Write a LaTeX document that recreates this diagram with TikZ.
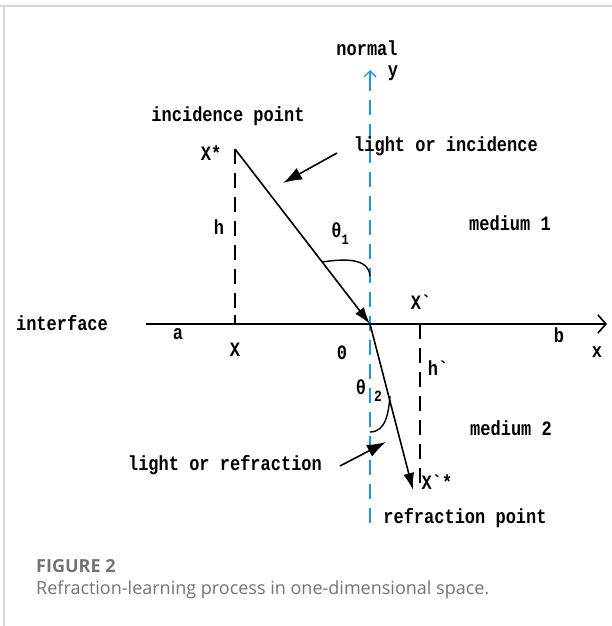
\documentclass[tikz,border=0pt]{standalone}
\usepackage{fontspec}
\setmainfont{Liberation Serif}
\newfontfamily\diagfont{Liberation Mono}
\newfontfamily\capfont{Open Sans}
\usetikzlibrary{arrows.meta}
\definecolor{normalblue}{RGB}{30,150,215}
\definecolor{framegray}{RGB}{215,215,215}
\definecolor{capgray}{RGB}{115,115,115}
\newcommand{\lblnode}[4]{\node[lbl] (#1) at ( #2 , #3 ) {\scalebox{1}[1.2]{#4}};}
\newcommand{\bq}{\symbol{96}}

\begin{document}
\begin{tikzpicture}[x=1pt,y=-1pt,
    lbl/.style={font=\diagfont\bfseries\fontsize{17}{17}\selectfont,inner sep=0pt},
    ray/.style={line width=1.6pt,-{Latex[length=17pt,width=11pt]}},
    pointer/.style={line width=1.6pt,-{Latex[length=19pt,width=13pt]}},
    guide/.style={line width=1.6pt,dash pattern=on 15pt off 9pt}]
        \useasboundingbox (0,0) rectangle (612,626);
        %frame
        \draw[framegray,line width=2pt] (0,6) -- (612,6);
        \draw[framegray,line width=1.2pt] (4,6) -- (4,626);
        %points
        \coordinate (xs) at (235,149);
        \coordinate (o) at (370,324);
        \coordinate (xsr) at (413,490);
        \coordinate (xb) at (420,324);
        \coordinate (xbr) at (420,488);
        \coordinate (ax0) at (146,324);
        \coordinate (ax1) at (607,324);
        \coordinate (nb) at (370,523);
        \coordinate (nt) at (370,70);
        \coordinate (p1) at (337,153);
        \coordinate (q1) at (283,183);
        \coordinate (p2) at (340,466);
        \coordinate (q2) at (386,442);
        %normal and interface
        \draw[normalblue,line width=1.6pt,dash pattern=on 15pt off 9pt] (nb) -- (370,80);
        \draw[normalblue,line width=1.4pt,-{Straight Barb[length=6pt,width=12pt]}] (370,84) -- (nt);
        \draw[line width=1.6pt,-{Straight Barb[length=8pt,width=18pt]}] (ax0) -- (ax1);
        %edges
        \draw[guide] (xs) -- (235,324);
        \draw[line width=1.6pt] (235,315) -- (235,324);
        \draw[guide] (xb) -- (xbr);
        \draw[ray] (xs) -- (o);
        \draw[ray] (o) -- (xsr);
        \draw[line width=1.4pt] (322,262) to[out=8,in=95] (370,276);
        \draw[line width=1.4pt] (370,432) to[out=0,in=-95] (390,396);
        \draw[pointer] (p1) -- (q1);
        \draw[pointer] (p2) -- (q2);
        %nodes
        \lblnode{normal}{367}{48}{normal}
        \lblnode{yax}{393}{73}{y}
        \lblnode{inc}{228}{116}{incidence point}
        \lblnode{xstar}{211}{153}{X*}
        \lblnode{light1}{446}{146}{light or incidence}
        \lblnode{h}{219}{227}{h}
        \lblnode{th1}{340}{234}{θ\raisebox{-6pt}{\fontsize{12}{12}\selectfont 1}}
        \lblnode{med1}{510}{223}{medium 1}
        \lblnode{xb}{421}{302}{X\bq}
        \lblnode{iface}{62}{323}{interface}
        \lblnode{a}{178}{334}{a}
        \lblnode{X}{235}{350}{X}
        \lblnode{zero}{342}{353}{0}
        \lblnode{b}{559}{335}{b}
        \lblnode{xax}{597}{352}{x}
        \lblnode{hb}{438}{368}{h\bq}
        \lblnode{th2}{361}{387}{θ}
        \lblnode{sub2}{378}{396}{\fontsize{13}{13}\selectfont 2}
        \lblnode{med2}{511}{428}{medium 2}
        \lblnode{light2}{225}{465}{light or refraction}
        \lblnode{xsb}{437}{482}{X\bq*}
        \lblnode{refr}{465}{518}{refraction point}
        %caption
        \node[anchor=west,inner sep=0pt,text=capgray,font=\capfont\bfseries\fontsize{18}{18}\selectfont] (fig) at (36,566) {FIGURE 2};
        \node[anchor=west,inner sep=0pt,text=capgray,font=\capfont\fontsize{18}{18}\selectfont] (cap) at (36,590) {Refraction-learning process in one-dimensional space.};
\end{tikzpicture}
\end{document}
